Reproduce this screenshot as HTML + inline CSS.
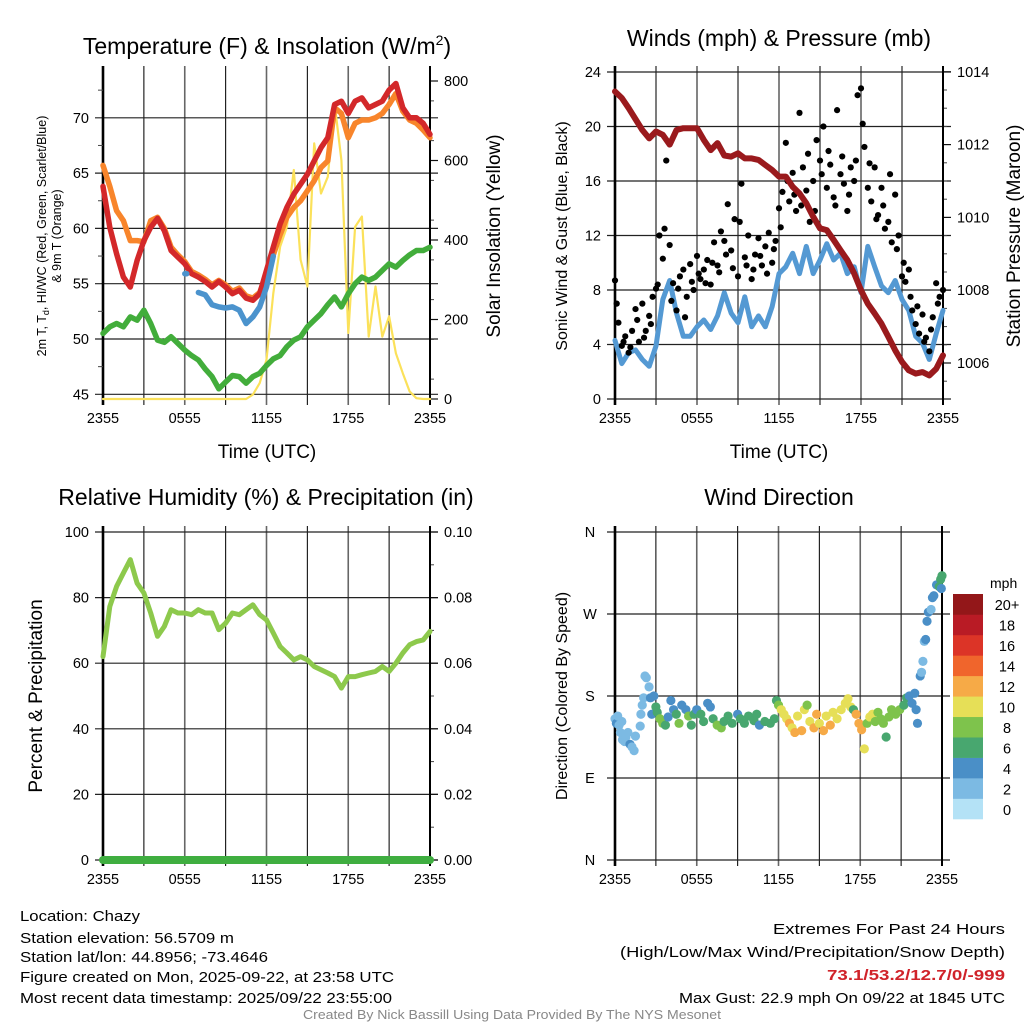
<!DOCTYPE html>
<html><head><meta charset="utf-8"><style>
html,body{margin:0;padding:0;background:#fff;}
svg{display:block;font-family:"Liberation Sans",sans-serif;}
</style></head><body>
<svg id="fig" width="1024" height="1024" viewBox="0 0 1024 1024" xmlns="http://www.w3.org/2000/svg">
<g id="g1"></g>
<g id="g2"></g>
<g id="g3"></g>
<g id="g4"></g>
<text x="267" y="54" font-size="23" text-anchor="middle">Temperature (F) &amp; Insolation (W/m<tspan dy="-9" font-size="14">2</tspan><tspan dy="9">)</tspan></text>
<text x="779" y="46" font-size="23" text-anchor="middle">Winds (mph) &amp; Pressure (mb)</text>
<text x="266" y="505" font-size="23" text-anchor="middle">Relative Humidity (%) &amp; Precipitation (in)</text>
<text x="779" y="505" font-size="23" text-anchor="middle">Wind Direction</text>
<text x="267" y="458" font-size="19" text-anchor="middle">Time (UTC)</text>
<text x="779" y="458" font-size="19" text-anchor="middle">Time (UTC)</text>
<text transform="translate(46,236) rotate(-90)" font-size="12.5" text-anchor="middle">2m T, T<tspan dy="3" font-size="9">d</tspan><tspan dy="-3">, HI/WC (Red, Green, Scarlet/Blue)</tspan></text>
<text transform="translate(61,236) rotate(-90)" font-size="12.5" text-anchor="middle">&amp; 9m T (Orange)</text>
<text transform="translate(500,236) rotate(-90)" font-size="19" text-anchor="middle">Solar Insolation (Yellow)</text>
<text transform="translate(567,236) rotate(-90)" font-size="16" text-anchor="middle">Sonic Wind &amp; Gust (Blue, Black)</text>
<text transform="translate(1020,236) rotate(-90)" font-size="19" text-anchor="middle">Station Pressure (Maroon)</text>
<text transform="translate(42,696) rotate(-90)" font-size="19" text-anchor="middle">Percent &amp; Precipitation</text>
<text transform="translate(567,696) rotate(-90)" font-size="16" text-anchor="middle">Direction (Colored By Speed)</text>
<text x="990" y="588" font-size="14">mph</text>
<g font-size="14.5">
<text x="20" y="921" textLength="120" lengthAdjust="spacingAndGlyphs">Location: Chazy</text>
<text x="20" y="943" textLength="214" lengthAdjust="spacingAndGlyphs">Station elevation: 56.5709 m</text>
<text x="20" y="962" textLength="248" lengthAdjust="spacingAndGlyphs">Station lat/lon: 44.8956; -73.4646</text>
<text x="20" y="982" textLength="374" lengthAdjust="spacingAndGlyphs">Figure created on Mon, 2025-09-22, at 23:58 UTC</text>
<text x="20" y="1003" textLength="372" lengthAdjust="spacingAndGlyphs">Most recent data timestamp: 2025/09/22 23:55:00</text>
<text x="1005" y="934" text-anchor="end" textLength="232" lengthAdjust="spacingAndGlyphs">Extremes For Past 24 Hours</text>
<text x="1005" y="957" text-anchor="end" textLength="385" lengthAdjust="spacingAndGlyphs">(High/Low/Max Wind/Precipitation/Snow Depth)</text>
<text x="1005" y="980" text-anchor="end" font-weight="bold" fill="#d0232a" textLength="178" lengthAdjust="spacingAndGlyphs">73.1/53.2/12.7/0/-999</text>
<text x="1005" y="1003" text-anchor="end" textLength="326" lengthAdjust="spacingAndGlyphs">Max Gust: 22.9 mph On 09/22 at 1845 UTC</text>
<text x="512" y="1019" text-anchor="middle" font-size="12.5" fill="#888" textLength="418" lengthAdjust="spacingAndGlyphs">Created By Nick Bassill Using Data Provided By The NYS Mesonet</text>
</g>
</svg>
<script>
const hours = [0,0.5,1,1.5,2,2.5,3,3.5,4,4.5,5,5.5,6,6.5,7,7.5,8,8.5,9,9.5,10,10.5,11,11.5,12,12.5,13,13.5,14,14.5,15,15.5,16,16.5,17,17.5,18,18.5,19,19.5,20,20.5,21,21.5,22,22.5,23,23.5,24];
const timeTickLabels = ["2355","0555","1155","1755","2355"];
const tempTicks = [45,50,55,60,65,70];
const insolTicks = [0,200,400,600,800];
const windTicks = [0,4,8,12,16,20,24];
const presTicks = [1006,1008,1010,1012,1014];
const rhTicks = [0,20,40,60,80,100];
const precipTicks = ["0.00","0.02","0.04","0.06","0.08","0.10"];
const dirTicks = ["N","E","S","W","N"];
const temp2m = [63.8,60.1,57.7,55.6,54.7,57.1,58.9,60.1,60.9,59.8,58.0,57.4,56.8,55.9,55.6,55.2,54.7,55.2,54.7,54.1,54.4,53.7,53.5,54.1,56.2,58.3,60.4,61.9,63.1,64.0,64.9,66.1,67.3,68.2,71.2,71.5,70.4,71.5,71.8,70.9,71.2,71.5,72.5,73.1,70.9,70.0,70.0,69.5,68.5];
const temp9m = [65.7,63.8,61.6,60.7,58.9,58.9,58.8,60.7,61.0,60.0,58.3,57.6,57.0,56.1,55.8,55.4,54.9,55.3,54.9,54.3,54.6,53.9,53.7,54.2,55.8,57.6,59.4,61.0,61.9,62.5,63.4,64.3,65.5,66.1,70.9,70.4,68.2,69.5,69.8,69.8,70.0,70.4,71.2,72.2,70.6,69.8,69.5,68.9,68.2];
const dewpoint = [50.5,51.1,51.4,51.1,52.0,51.7,52.6,51.4,49.9,49.7,50.2,49.6,49.0,48.5,48.1,47.3,46.6,45.5,46.1,46.7,46.6,46.0,46.6,46.9,47.6,48.2,48.5,49.3,49.9,50.2,51.1,51.7,52.3,53.1,53.8,52.9,54.1,55.0,55.6,55.3,55.6,56.2,56.8,56.5,57.1,57.6,58.0,58.0,58.3];
const heatIndex = [null,null,null,null,null,null,null,null,null,null,null,null,55.9,null,54.2,54.0,53.1,52.9,52.8,52.9,52.6,51.4,52.0,52.9,54.7,57.5,null,null,null,null,null,null,null,null,null,null,null,null,null,null,null,null,null,null,null,null,null,null,null];
const insolation = [0,0,0,0,0,0,0,0,0,0,0,0,0,0,0,0,0,0,0,0,0,0,11,40,99,266,383,433,576,350,283,643,517,559,743,601,166,433,459,157,283,157,208,115,65,19,2,0,0];
const windSpeed = [4.3,2.6,3.4,3.6,2.9,2.4,3.9,7.3,8.7,6.3,4.6,4.6,5.3,5.8,5.1,6.1,7.8,6.3,5.6,7.5,5.3,6.1,5.3,6.8,9.2,9.7,10.7,9.2,11.2,9.2,10.2,11.4,10.2,10.7,9.2,9.7,7.8,11.2,9.7,8.3,7.8,8.7,7.3,6.5,4.6,4.1,2.9,4.8,6.5];
const pressure = [1013.46,1013.28,1013.0,1012.7,1012.4,1012.17,1012.36,1012.27,1012.0,1012.4,1012.45,1012.45,1012.45,1012.13,1011.85,1012.04,1011.7,1011.67,1011.76,1011.62,1011.62,1011.58,1011.44,1011.3,1011.12,1011.12,1010.84,1010.66,1010.39,1010.02,1009.7,1009.65,1009.38,1009.1,1008.83,1008.46,1008.0,1007.63,1007.36,1007.08,1006.72,1006.35,1006.03,1005.8,1005.71,1005.75,1005.66,1005.84,1006.21];
const gustTimes = [0,0.25,0.5,0.75,1,1.25,1.5,1.75,2,2.25,2.5,2.75,3,3.25,3.5,3.75,4,4.25,4.5,4.75,5,5.25,5.5,5.75,6,6.25,6.5,6.75,7,7.25,7.5,7.75,8,8.25,8.5,8.75,9,9.25,9.5,9.75,10,10.25,10.5,10.75,11,11.25,11.5,11.75,12,12.25,12.5,12.75,13,13.25,13.5,13.75,14,14.25,14.5,14.75,15,15.25,15.5,15.75,16,16.25,16.5,16.75,17,17.25,17.5,17.75,18,18.25,18.5,18.75,19,19.25,19.5,19.75,20,20.25,20.5,20.75,21,21.25,21.5,21.75,22,22.25,22.5,22.75,23,23.25,23.5,23.75,24,
0.125,0.625,1.125,1.625,2.125,2.625,3.125,3.625,4.125,4.625,5.125,5.625,6.125,6.625,7.125,7.625,8.125,8.625,9.125,9.625,10.125,10.625,11.125,11.625,12.125,12.625,13.125,13.625,14.125,14.625,15.125,15.625,16.125,16.625,17.125,17.625,18.125,18.625,19.125,19.625,20.125,20.625,21.125,21.625,22.125,22.625,23.125,23.625];
const gustVals = [8.7,5.6,3.9,4.6,3.4,5.0,6.6,4.2,7.0,5.0,6.1,7.5,8.1,12.0,10.3,17.5,11.3,8.5,6.5,9.0,9.5,7.5,9.9,8.0,10.5,8.8,9.5,10.2,8.4,11.5,9.8,12.3,11.6,14.3,10.9,13.2,9.0,15.8,10.4,12.0,8.8,10.6,11.8,9.8,11.2,12.2,10.0,11.6,14.0,15.2,18.8,14.5,16.6,13.8,21.0,17.0,15.3,13.0,16.0,19.0,17.5,20.0,15.5,17.2,14.8,21.2,16.5,15.8,13.8,17.0,16.0,22.3,22.8,18.5,15.5,14.5,17.0,13.5,15.5,12.5,13.0,11.5,15.0,12.0,9.0,8.6,9.5,6.5,5.5,4.8,6.2,4.5,3.5,6.0,8.5,7.5,8.0,
7.0,4.2,3.8,5.8,4.5,5.5,8.4,12.5,7.2,8.1,6.0,8.6,9.2,8.5,10.0,9.3,10.6,9.6,13.0,9.8,9.5,10.5,9.2,11.0,12.6,16.0,15.0,14.2,18.0,13.8,16.5,18.2,14.2,17.8,15.0,17.5,20.2,17.3,13.2,14.2,16.5,11.0,10.0,7.5,6.8,4.2,5.1,7.0];
const rh = [62.0,77.3,83.4,87.5,91.6,84.4,81.4,75.3,68.2,71.2,76.3,75.3,75.3,74.8,76.3,75.3,75.3,70.2,72.2,75.3,74.8,76.3,77.8,74.8,73.2,69.2,65.1,63.1,61.0,62.0,61.0,59.0,58.0,57.0,55.9,52.4,55.9,55.9,56.5,57.0,57.5,59.0,57.5,60.0,63.1,65.6,66.6,67.1,69.7];
const precip = [0,0,0,0,0,0,0,0,0,0,0,0,0,0,0,0,0,0,0,0,0,0,0,0,0,0,0,0,0,0,0,0,0,0,0,0,0,0,0,0,0,0,0,0,0,0,0,0,0];
const dirTimes = [0,0.1,0.2,0.3,0.4,0.5,0.55,0.7,0.8,0.95,1.1,1.25,1.4,1.5,1.85,1.9,2.0,2.1,2.2,2.3,2.5,2.6,2.7,2.85,3.0,3.1,3.3,3.5,3.7,3.9,4.1,4.3,4.5,4.7,4.9,5.2,5.4,5.6,5.8,6.0,6.3,6.5,6.8,7.0,7.2,7.5,7.8,8.0,8.3,8.6,9.0,9.2,9.5,9.8,10.2,10.4,10.6,11.0,11.4,11.7,11.85,12.0,12.2,12.4,12.6,12.8,13.0,13.2,13.4,13.7,13.9,14.1,14.3,14.6,14.8,15.0,15.3,15.5,15.8,16.0,16.3,16.6,16.9,17.1,17.3,17.5,17.7,17.9,18.1,18.3,18.5,18.7,18.9,19.1,19.3,19.5,19.7,19.9,20.1,20.3,20.6,20.9,21.2,21.4,21.6,21.8,22.0,22.1,22.2,22.4,22.5,22.6,22.7,22.8,22.9,23.0,23.2,23.3,23.4,23.6,23.8,23.9,24.0,23.95];
const dirVals = [155,150,158,148,140,152,132,130,135,140,127,124,120,136,147,160,170,178,202,200,190,178,160,180,168,162,155,150,148,157,175,165,160,150,170,165,158,148,160,165,160,152,172,168,155,148,145,152,158,150,160,155,150,158,153,160,148,152,150,155,175,170,165,160,155,150,145,140,158,142,165,170,152,145,160,150,142,158,148,162,155,165,172,177,168,165,160,150,143,122,150,157,160,152,162,155,150,135,157,165,160,165,170,178,180,172,183,165,150,202,206,218,240,242,262,272,275,288,290,302,300,308,312,298];
const dirSpeeds = [3.5,4.5,2.5,2.5,3,3,2.5,2.5,2.5,3,4.5,3,2.5,2.5,3,2.5,3,2.5,2.5,2.5,2.5,4.5,4.5,4.5,6,7,8,8,7,4.5,4.5,4.5,6,8,4.5,4.5,8,7,6,4.5,7,6,4.5,4.5,7,8,8,7,6,6,4.5,6,6,7,6,6,4.5,6,7,6,6,9,10,10,11,12,10,12,10,12,10,9,11,13,12,11,13,10,13,10,11,10,10,10,10,6,13,12,13,10,8,10,10,9,9,8,8,7,8,8,8,8,6,6,4.5,4.5,4.5,4.5,4.5,4.5,3,3,3,4.5,4.5,4.5,3,4.5,4.5,4.5,6,6,6,4.5];
const speedBins = ["0","2","4","6","8","10","12","14","16","18","20+"];
const speedColors = ["#b4e2f6","#7cbae3","#4a8fc7","#48a76f","#7ec34c","#e6df57","#f6aa47","#f0652c","#dc3427","#b91b25","#931719"];

const NS = "http://www.w3.org/2000/svg";
function mk(parent, tag, attrs){const e=document.createElementNS(NS,tag);for(const k in attrs)e.setAttribute(k,attrs[k]);parent.appendChild(e);return e;}
const P = {
  1:{x0:103,x1:430,yT:72,yB:399},
  2:{x0:615,x1:943,yT:72,yB:399},
  3:{x0:103,x1:430,yT:532,yB:860},
  4:{x0:615,x1:942,yT:532,yB:860}
};
function xs(p,h){return P[p].x0+(P[p].x1-P[p].x0)*h/24;}
const yTemp = v => 394.3-(v-45)*11.06;
const yIns = v => 399-v*0.3975;
const yWind = v => 399-v*13.625;
const yPres = v => 363-(v-1006)*36.4;
const yRH = v => 860-v*3.28;
const yPrecip = v => 860-v*3280;
const yDir = v => 860-v*0.9111;

function frame(p, g, hY, leftLabels, rightLabels, rightY, rightMinor){
  const c=P[p];
  // vertical grid + ticks
  for(let i=0;i<=8;i++){
    const x=xs(p,i*3);
    const l=mk(g,"line",{x1:x,x2:x,y1:c.yT-6,y2:c.yB+6,stroke:(i%2==0)?"#666":"#111","stroke-width":(i%2==0)?1.6:1.1});
    
    
  }
  timeTickLabels.forEach((t,i)=>{
    const tx=mk(g,"text",{x:xs(p,i*6),y:c.yB+24,"font-size":14.5,"text-anchor":"middle"});
    tx.textContent=t;
    
    
  });
  // horizontal grid
  hY.forEach((y,i)=>{
    const l=mk(g,"line",{x1:c.x0-8,x2:c.x1+8,y1:y,y2:y,stroke:"#222","stroke-width":1.2});
    
    
    if(leftLabels){
      const tx=mk(g,"text",{x:c.x0-14,y:y+5,"font-size":14.5,"text-anchor":"end"});
      tx.textContent=leftLabels[i];
      
      
    }
  });
  if(rightLabels){
    rightY.forEach((y,i)=>{
      const l=mk(g,"line",{x1:c.x1,x2:c.x1+8,y1:y,y2:y,stroke:"#111","stroke-width":1.2});
      
      
      const tx=mk(g,"text",{x:c.x1+14,y:y+5,"font-size":14.5});
      tx.textContent=rightLabels[i];
      
      
    });
    rightMinor.forEach(y=>{
      const l=mk(g,"line",{x1:c.x1,x2:c.x1+4,y1:y,y2:y,stroke:"#444","stroke-width":1});
      
      
    });
  }
  const bl=mk(g,"line",{x1:c.x0,x2:c.x0,y1:c.yT-6,y2:c.yB+6,stroke:"#000","stroke-width":2.6});
  
  
  const br=mk(g,"line",{x1:c.x1,x2:c.x1,y1:c.yT-6,y2:c.yB+6,stroke:"#000","stroke-width":2});
  
  
}
function series(g,p,vals,yf,color,w,name){
  let d="",pen=false;
  vals.forEach((v,i)=>{
    if(v===null){pen=false;return;}
    const x=xs(p,hours[i]).toFixed(1),y=yf(v).toFixed(1);
    const nextNull=(i+1>=vals.length||vals[i+1]===null);
    if(!pen){d+="M"+x+" "+y+(nextNull?" l2 0":"");pen=true;}else d+="L"+x+" "+y;
  });
  const e=mk(g,"path",{d:d,fill:"none",stroke:color,"stroke-width":w,"stroke-linejoin":"round","stroke-linecap":"round"});
  
  
  return e;
}

// Panel 1
const g1=document.getElementById("g1");
const minor1=[];for(let v=50;v<800;v+=100)minor1.push(yIns(v));
frame(1,g1,tempTicks.map(yTemp),tempTicks.map(String),insolTicks.map(String),insolTicks.map(yIns),minor1);
[47.5,52.5,57.5,62.5,67.5,72.5].forEach(v=>{
  const l=mk(g1,"line",{x1:98,x2:103,y1:yTemp(v),y2:yTemp(v),stroke:"#444"});
  
  
});
series(g1,1,insolation,yIns,"#fbe15a",2.2,"insolation-line");
series(g1,1,dewpoint,yTemp,"#42ad3b",5.5,"dewpoint-line");
series(g1,1,temp9m,yTemp,"#f8852b",5.5,"temp-9m-line");
series(g1,1,temp2m,yTemp,"#d3282a",5.5,"temp-2m-line");
series(g1,1,heatIndex,yTemp,"#4b93cd",5.5,"heat-index-line");

// Panel 2
const g2=document.getElementById("g2");
const minor2=[];for(let v=1005.5;v<1014;v+=0.5)if(v%2!==0)minor2.push(yPres(v));
frame(2,g2,windTicks.map(yWind),windTicks.map(String),presTicks.map(String),presTicks.map(yPres),minor2);
series(g2,2,windSpeed,yWind,"#5499d3",5,"wind-speed-line");
gustTimes.forEach((t,i)=>{
  const c=mk(g2,"circle",{cx:xs(2,t),cy:yWind(gustVals[i]),r:3.1,fill:"#000"});
  
  
});
series(g2,2,pressure,yPres,"#9a1a1d",6,"pressure-line");

// Panel 3
const g3=document.getElementById("g3");
const minor3=[];for(let v=0.01;v<0.1;v+=0.02)minor3.push(yPrecip(v));
frame(3,g3,rhTicks.map(yRH),rhTicks.map(String),precipTicks,precipTicks.map(s=>yPrecip(parseFloat(s))),minor3);
series(g3,3,rh,yRH,"#8dc94c",5,"humidity-line");
const pl=series(g3,3,precip,yPrecip,"#3fae40",8,"precipitation-line");
pl.setAttribute('transform','translate(0,0)');

// Panel 4
const g4=document.getElementById("g4");
frame(4,g4,[0,90,180,270,360].map(yDir),null,null,[],[]);
dirTicks.forEach((t,i)=>{
  const tx=mk(g4,"text",{x:590,y:yDir(i*90)+5,"font-size":14.5,"text-anchor":"middle"});
  tx.textContent=t;
  
  
});
function colorFor(s){let k=Math.floor(s/2);if(k>10)k=10;return speedColors[k];}
dirTimes.forEach((t,i)=>{
  const c=mk(g4,"circle",{cx:xs(4,t),cy:yDir(dirVals[i]),r:4.6,fill:colorFor(dirSpeeds[i])});
  
  
});
const cellH=(819-594)/11;
speedBins.forEach((b,i)=>{
  const y=819-(i+1)*cellH;
  const r=mk(g4,"rect",{x:953,y:y,width:30,height:cellH+0.3,fill:speedColors[i]});
  
  
  const tx=mk(g4,"text",{x:1007,y:y+cellH/2+6,"font-size":14.5,"text-anchor":"middle"});
  tx.textContent=b;
  
  
});
</script>
</body></html>
